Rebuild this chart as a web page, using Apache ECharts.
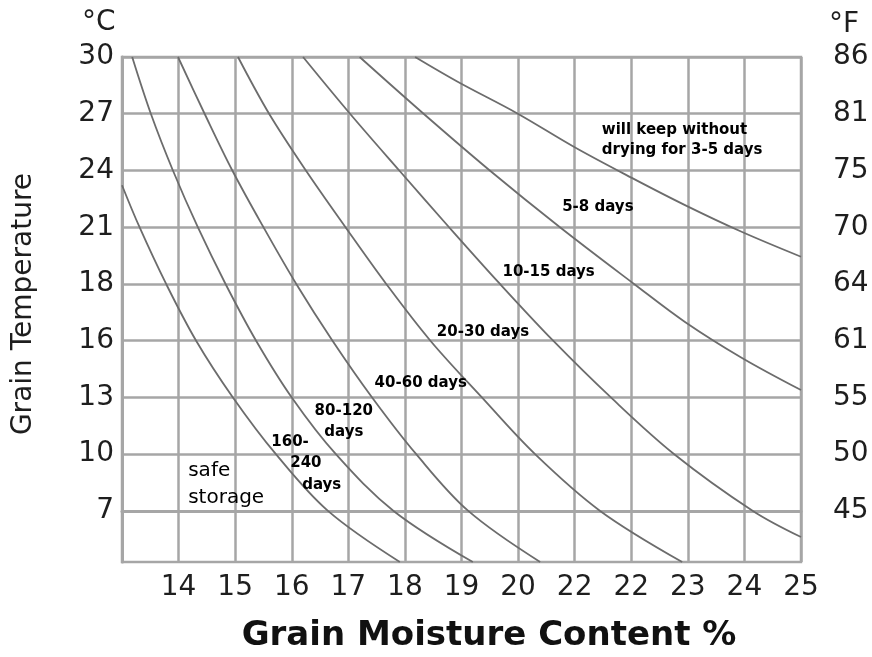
<!DOCTYPE html>
<html>
<head>
<meta charset="utf-8">
<script src="https://cdn.jsdelivr.net/npm/echarts@6/dist/echarts.min.js"></script>
<style>html,body{margin:0;padding:0;background:#fff}#c{width:872px;height:657px}</style>
</head>
<body>
<div id="c"></div>
<script>
// Axis tick labels (index positions 0..12 on x; 0..8 on y)
const moistureLabels = ['', '14', '15', '16', '17', '18', '19', '20', '22', '22', '23', '24', '25'];
const celsiusLabels = ['7', '10', '13', '16', '18', '21', '24', '27', '30'];
const fahrenheitLabels = ['45', '50', '55', '61', '64', '70', '75', '81', '86'];
const yTickValues = [0, 1, 2, 3, 4, 5, 6, 7, 8];

// Storage-time boundary curves, in [moisture grid index, temperature grid index]
const curveSafe = [[0, 5.74], [0.31, 5], [0.78, 4], [1.31, 3], [1.96, 2], [2.72, 1], [3.64, 0], [4.91, -0.9]];
const curve160 = [[0.18, 8], [0.51, 7], [0.90, 6], [1.34, 5], [1.83, 4], [2.37, 3], [3.0, 2], [3.78, 1], [4.8, 0], [6.2, -0.9]];
const curve80 = [[0.99, 8], [1.46, 7], [1.95, 6], [2.5, 5], [3.08, 4], [3.72, 3], [4.42, 2], [5.2, 1], [6.12, 0], [7.39, -0.9]];
const curve40 = [[2.05, 8], [2.6, 7], [3.25, 6], [3.95, 5], [4.67, 4], [5.45, 3], [6.36, 2], [7.3, 1], [8.45, 0], [9.9, -0.9]];
const curve20 = [[3.2, 8], [4.03, 7], [4.9, 6], [5.78, 5], [6.68, 4], [7.62, 3], [8.64, 2], [9.76, 1], [11.15, 0], [12, -0.46]];
const curve10 = [[4.2, 8], [5.33, 7], [6.5, 6], [7.74, 5], [9.05, 4], [9.95, 3.33], [10.95, 2.7], [12, 2.13]];
const curve5 = [[5.18, 8], [5.94, 7.56], [6.98, 7.01], [8.0, 6.41], [9.01, 5.87], [9.95, 5.39], [10.95, 4.92], [12, 4.48]];
const curves = [curveSafe, curve160, curve80, curve40, curve20, curve10, curve5];

// Region annotations
const annotationTexts = ['will keep without\ndrying for 3-5 days', '5-8 days', '10-15 days', '20-30 days', '40-60 days', '80-120\ndays', '160-', '240', 'days', 'safe\nstorage'];
const annotationAnchors = [[8.48, 6.54], [8.41, 5.36], [7.54, 4.21], [6.38, 3.15], [5.28, 2.26], [3.92, 1.57], [2.97, 1.22], [3.25, 0.85], [3.53, 0.46], [1.17, 0.47]];

const FONT = 'DejaVu Sans';
const GRID_COLOR = '#a6a6a6';
const TXT = '#1e1e1e';

const chart = echarts.init(document.getElementById('c'), null, {renderer: 'canvas'});

const annData = annotationTexts.map((t, i) => {
  const left = (i === 0 || i === annotationTexts.length - 1);
  const safe = i === annotationTexts.length - 1;
  return {
    value: annotationAnchors[i],
    name: t,
    label: {
      align: left ? 'left' : 'center',
      fontSize: safe ? 20 : 15,
      fontWeight: safe ? 'normal' : 'bold',
      lineHeight: safe ? 27 : (i === 0 ? 20 : 21)
    }
  };
});

const series = curves.map(c => ({
  type: 'line',
  data: c,
  smooth: 0.35,
  showSymbol: false,
  symbol: 'none',
  silent: true,
  yAxisIndex: 0,
  lineStyle: {color: '#6c6c6c', width: 1.8},
  z: 3
}));
series.push({
  type: 'scatter',
  data: annData,
  symbolSize: 1,
  itemStyle: {color: '#ffffff', opacity: 1},
  silent: true,
  z: 5,
  label: {
    show: true,
    position: 'inside',
    formatter: p => p.name,
    color: '#000',
    textBorderWidth: 0,
    textBorderColor: 'transparent',
    fontFamily: FONT,
    fontSize: 15,
    fontWeight: 'bold',
    verticalAlign: 'middle'
  }
});

chart.setOption({
  animation: false,
  backgroundColor: '#fff',
  grid: {
    left: 122, right: 71, top: 57, bottom: 95,
    show: true, borderColor: GRID_COLOR, borderWidth: 2.5,
    containLabel: false, outerBoundsMode: 'none'
  },
  xAxis: {
    type: 'value', min: 0, max: 12, interval: 1,
    axisLine: {show: true, lineStyle: {color: GRID_COLOR, width: 3}},
    axisTick: {show: false},
    axisLabel: {
      formatter: v => moistureLabels[Math.round(v)] || '',
      fontFamily: FONT, fontSize: 28, color: TXT, margin: 12
    },
    splitLine: {show: true, lineStyle: {color: GRID_COLOR, width: 2.5}}
  },
  yAxis: [{
    type: 'value', min: -0.9, max: 8, position: 'left',
    axisLine: {show: true, lineStyle: {color: GRID_COLOR, width: 3}},
    axisTick: {show: false, customValues: yTickValues},
    axisLabel: {
      customValues: yTickValues,
      formatter: v => celsiusLabels[Math.round(v)] || '',
      fontFamily: FONT, fontSize: 28, color: TXT, margin: 8
    },
    splitLine: {show: true, lineStyle: {color: GRID_COLOR, width: 2.5}}
  }, {
    type: 'value', min: -0.9, max: 8, position: 'right',
    axisLine: {show: false},
    axisTick: {show: false, customValues: yTickValues},
    axisLabel: {
      customValues: yTickValues,
      formatter: v => fahrenheitLabels[Math.round(v)] || '',
      fontFamily: FONT, fontSize: 28, color: TXT, margin: 32
    },
    splitLine: {show: false}
  }],
  graphic: [
    {type: 'text', left: 82, top: 9, style: {text: '°C', font: '28px "DejaVu Sans"', fill: TXT}},
    {type: 'text', left: 829, top: 11, style: {text: '°F', font: '28px "DejaVu Sans"', fill: TXT}},
    {type: 'text', x: 489, y: 636, style: {text: 'Grain Moisture Content %', font: 'bold 34px "DejaVu Sans"', fill: '#111', align: 'center', verticalAlign: 'middle'}},
    {type: 'text', x: 24, y: 304, rotation: Math.PI / 2, style: {text: 'Grain Temperature', font: '28px "DejaVu Sans"', fill: TXT, align: 'center', verticalAlign: 'middle'}}
  ],
  series: series
});
</script>
</body>
</html>
